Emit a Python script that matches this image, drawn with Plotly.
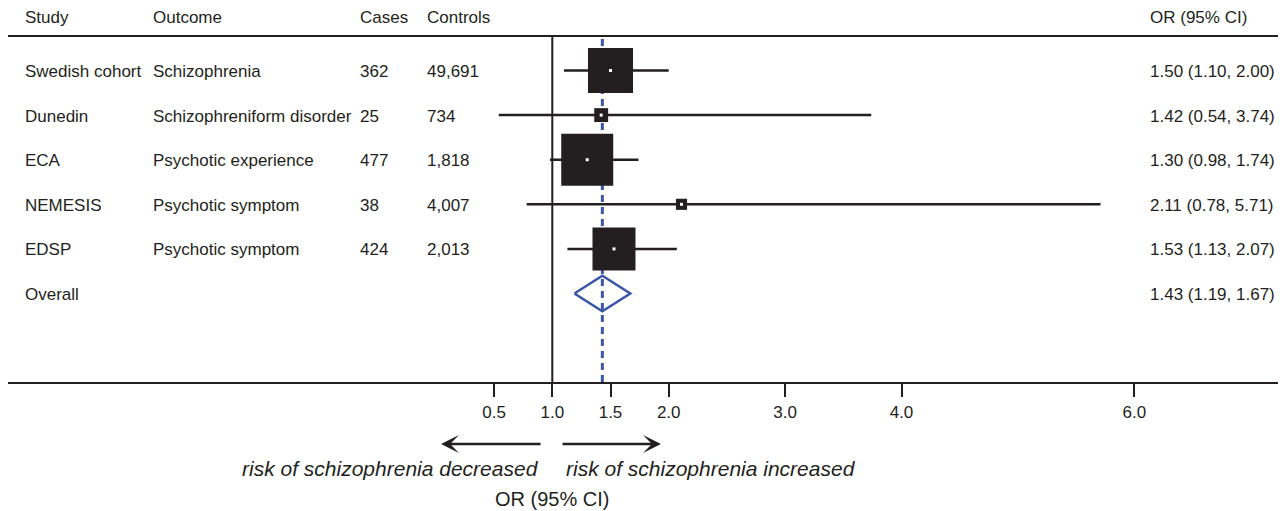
import plotly.graph_objects as go

# ---------------- data ----------------
studies = ["Swedish cohort", "Dunedin", "ECA", "NEMESIS", "EDSP"]
outcomes = ["Schizophrenia", "Schizophreniform disorder", "Psychotic experience",
            "Psychotic symptom", "Psychotic symptom"]
cases = [362, 25, 477, 38, 424]
controls = [49691, 734, 1818, 4007, 2013]
or_est = [1.50, 1.42, 1.30, 2.11, 1.53]
ci_low = [1.10, 0.54, 0.98, 0.78, 1.13]
ci_high = [2.00, 3.74, 1.74, 5.71, 2.07]
weights = [29.4, 2.8, 39.2, 1.8, 26.8]  # relative study weights (%)

overall_label = "Overall"
overall_est = 1.43
overall_low = 1.19
overall_high = 1.67

tick_vals = [0.5, 1.0, 1.5, 2.0, 3.0, 4.0, 6.0]
tick_text = ["0.5", "1.0", "1.5", "2.0", "3.0", "4.0", "6.0"]

headers = ["Study", "Outcome", "Cases", "Controls", "OR (95% CI)"]
label_left = "risk of schizophrenia decreased"
label_right = "risk of schizophrenia increased"
axis_title = "OR (95% CI)"

# ---------------- layout geometry (screen pixels) ----------------
OFF = 8                      # page body margin
W, H = 1286 - OFF, 511 - OFF
PL, PR = 8, 1283             # plot area (screen px)
PT, PB = 37, 382
X1PX, XUNIT = 552.3, 116.4
ROW0, ROWH = 70.5, 44.6

def xd(px):
    return 1 + (px - X1PX) / XUNIT

def yd(py):
    return (py - ROW0) / ROWH

def xp(px):
    return (px - PL) / (PR - PL)

def yp(py):
    return (PB - py) / (PB - PT)

INK = "#231f20"
BLUE = "#3a56a6"
FONT = "Liberation Sans, Arial, Helvetica, sans-serif"
FS = 17
FS_ITALIC = 21
FS_TITLE = 20

n = len(studies)
rows = list(range(n))
overall_row = n

fig = go.Figure()

# CI lines
cx, cy = [], []
for i in rows:
    cx += [ci_low[i], ci_high[i], None]
    cy += [i, i, None]
fig.add_trace(go.Scatter(x=cx, y=cy, mode="lines",
                         line=dict(color=INK, width=2.5),
                         hoverinfo="skip", showlegend=False))

# weighted squares
kscale = 52 / (max(weights) ** 0.5)
sizes = [kscale * w ** 0.5 for w in weights]
fig.add_trace(go.Scatter(x=or_est, y=rows, mode="markers",
                         marker=dict(symbol="square", size=sizes, color=INK,
                                     opacity=1, line=dict(width=0)),
                         showlegend=False))
# white centre dot
fig.add_trace(go.Scatter(x=or_est, y=rows, mode="markers",
                         marker=dict(symbol="square", size=3, color="white",
                                     opacity=1, line=dict(width=0)),
                         hoverinfo="skip", showlegend=False))

# overall diamond
dh = 0.4
fig.add_trace(go.Scatter(
    x=[overall_low, overall_est, overall_high, overall_est, overall_low],
    y=[overall_row, overall_row - dh, overall_row, overall_row + dh, overall_row],
    mode="lines", line=dict(color=BLUE, width=2.5),
    hoverinfo="skip", showlegend=False))

# reference lines
fig.add_shape(type="line", xref="x", yref="paper", x0=1, x1=1, y0=0, y1=1,
              line=dict(color=INK, width=2), layer="below")
fig.add_shape(type="line", xref="x", yref="paper", x0=overall_est, x1=overall_est,
              y0=0, y1=1, line=dict(color=BLUE, width=3, dash="7px,5px"),
              layer="below")

# ---------------- text columns ----------------
col_px = [23, 151, 358, 425, 1148]

def add_text(xpx, ypx, text, anchor="left", italic=False, size=FS):
    fig.add_annotation(x=xp(xpx), y=yp(ypx), xref="paper", yref="paper", text=text,
                       showarrow=False, xanchor=anchor, yanchor="middle",
                       font=dict(family=FONT, size=size, color=INK,
                                 style="italic" if italic else "normal"))

def row_px(i):
    return ROW0 + i * ROWH + 1

for c, h in zip(col_px, headers):
    add_text(c, 17.5, h)

for i in rows:
    add_text(col_px[0], row_px(i), studies[i])
    add_text(col_px[1], row_px(i), outcomes[i])
    add_text(col_px[2], row_px(i), f"{cases[i]:,}")
    add_text(col_px[3], row_px(i), f"{controls[i]:,}")
    add_text(col_px[4], row_px(i),
             f"{or_est[i]:.2f} ({ci_low[i]:.2f}, {ci_high[i]:.2f})")

add_text(col_px[0], row_px(overall_row), overall_label)
add_text(col_px[4], row_px(overall_row),
         f"{overall_est:.2f} ({overall_low:.2f}, {overall_high:.2f})")

# arrows and direction labels
arrow_y = 444
fig.add_annotation(x=xp(441), y=yp(arrow_y), xref="paper", yref="paper",
                   ax=542 - 441, ay=0, text="", showarrow=True,
                   arrowhead=3, arrowsize=1.2, arrowwidth=2.5, arrowcolor=INK)
fig.add_annotation(x=xp(661), y=yp(arrow_y), xref="paper", yref="paper",
                   ax=561 - 661, ay=0, text="", showarrow=True,
                   arrowhead=3, arrowsize=1.2, arrowwidth=2.5, arrowcolor=INK)
add_text(541, 469, label_left, anchor="right", italic=True, size=FS_ITALIC)
add_text(564, 469, label_right, anchor="left", italic=True, size=FS_ITALIC)
add_text(X1PX, 499, axis_title, anchor="center", size=FS_TITLE)

fig.update_layout(
    width=W, height=H, autosize=False,
    margin=dict(l=PL - OFF, r=(W + OFF) - PR, t=PT - OFF, b=(H + OFF) - PB, pad=0),
    paper_bgcolor="white", plot_bgcolor="white",
    font=dict(family=FONT, size=FS, color=INK), showlegend=False,
    xaxis=dict(range=[xd(PL), xd(PR)], showgrid=False, zeroline=False,
               showline=True, linecolor=INK, linewidth=2, mirror=True,
               ticks="outside", ticklen=13, tickwidth=2, tickcolor=INK,
               tickvals=tick_vals, ticktext=tick_text,
               tickfont=dict(family=FONT, size=FS, color=INK),
               ticklabelstandoff=1, fixedrange=True),
    yaxis=dict(range=[yd(PB), yd(PT)], visible=False, showgrid=False,
               zeroline=False, fixedrange=True),
)

fig.write_html("out.html")
